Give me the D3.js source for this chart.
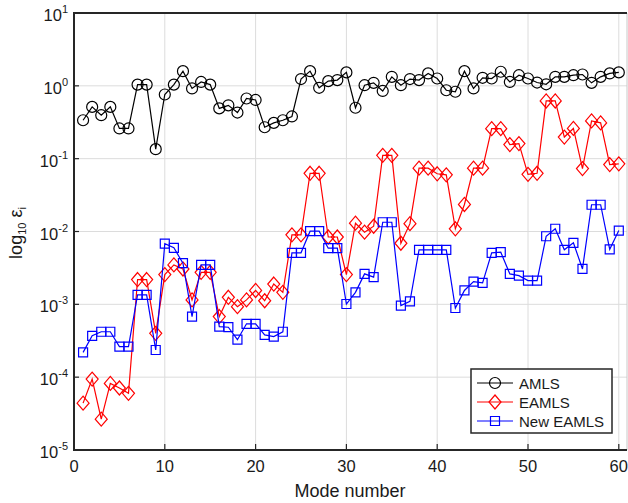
<!DOCTYPE html>
<html>
<head>
<meta charset="utf-8">
<script src="https://cdn.jsdelivr.net/npm/d3@7"></script>
<style>
  body { margin: 0; background: #fff; }
  svg { display: block; font-family: "Liberation Sans", Arial, sans-serif; }
</style>
</head>
<body>
<svg width="628" height="503"></svg>
<script>
// mode numbers 1..60
var modes = d3.range(1, 61);

var amls = [0.337, 0.514, 0.395, 0.514, 0.26, 0.26, 1.04, 1.04, 0.135, 0.76,
	1.04, 1.59, 0.92, 1.13, 1.04, 0.49, 0.54, 0.43, 0.67, 0.64,
	0.27, 0.31, 0.337, 0.38, 1.24, 1.59, 0.94, 1.16, 1.2, 1.53,
	0.50, 1.02, 1.1, 0.85, 1.33, 1.02, 1.24, 1.2, 1.48, 1.26,
	0.87, 0.83, 1.59, 0.92, 1.29, 1.26, 1.56, 1.13, 1.4, 1.26,
	1.11, 1.05, 1.33, 1.33, 1.4, 1.43, 1.1, 1.33, 1.48, 1.53];

var eamls = [4.4e-5, 9.4e-5, 2.65e-5, 8.2e-5, 7.1e-5, 6.0e-5, 2.19e-3, 2.19e-3, 4.0e-4, 2.56e-3,
	3.48e-3, 3.06e-3, 1.15e-3, 2.75e-3, 2.75e-3, 6.8e-4, 1.25e-3, 9.3e-4, 1.15e-3, 1.55e-3,
	1.12e-3, 1.9e-3, 1.46e-3, 9.0e-3, 9.0e-3, 6.3e-2, 6.3e-2, 8.4e-3, 8.4e-3, 2.56e-3,
	1.3e-2, 9.8e-3, 1.18e-2, 0.111, 0.111, 6.9e-3, 1.28e-2, 7.4e-2, 7.4e-2, 6.2e-2,
	6.0e-2, 1.09e-2, 2.35e-2, 7.4e-2, 7.4e-2, 0.258, 0.258, 0.156, 0.161, 6.1e-2,
	6.3e-2, 0.62, 0.62, 0.198, 0.26, 7.3e-2, 0.33, 0.31, 8.3e-2, 8.5e-2];

var newEamls = [2.19e-4, 3.7e-4, 4.2e-4, 4.2e-4, 2.63e-4, 2.63e-4, 1.35e-3, 1.35e-3, 2.36e-4, 6.8e-3,
	5.97e-3, 3.67e-3, 6.8e-4, 3.48e-3, 3.48e-3, 4.93e-4, 4.85e-4, 3.27e-4, 5.4e-4, 5.4e-4,
	3.8e-4, 3.6e-4, 4.2e-4, 5.1e-3, 5.1e-3, 1.01e-2, 1.01e-2, 5.9e-3, 5.9e-3, 1.01e-3,
	1.46e-3, 2.62e-3, 2.36e-3, 1.34e-2, 1.34e-2, 9.6e-4, 1.1e-3, 5.6e-3, 5.6e-3, 5.6e-3,
	5.6e-3, 8.9e-4, 1.55e-3, 2.05e-3, 1.97e-3, 5.1e-3, 5.2e-3, 2.62e-3, 2.48e-3, 2.12e-3,
	2.12e-3, 8.6e-3, 1.09e-2, 5.6e-3, 7.0e-3, 3.06e-3, 2.33e-2, 2.33e-2, 5.7e-3, 1.03e-2];

var xTicks = [0, 10, 20, 30, 40, 50, 60];
var yExps = [-5, -4, -3, -2, -1, 0, 1];
var seriesNames = ['AMLS', 'EAMLS', 'New EAMLS'];

var svg = d3.select('svg');
var pLeft = 74, pRight = 627, pTop = 13, pBottom = 450;

var x = d3.scaleLinear().domain([0, 61]).range([pLeft, pLeft + 61 * 9.08]);
var y = d3.scaleLog().domain([1e-5, 10]).range([pBottom, pTop]);

// grid
svg.append('g').selectAll('line')
	.data(xTicks.slice(1))
	.enter().append('line')
	.attr('x1', x).attr('x2', x)
	.attr('y1', pTop).attr('y2', pBottom)
	.attr('stroke', '#dcdcdc').attr('stroke-width', 1);

svg.append('g').selectAll('line')
	.data(yExps.slice(1, -1))
	.enter().append('line')
	.attr('x1', pLeft).attr('x2', pRight)
	.attr('y1', function(d) {return y(Math.pow(10, d));})
	.attr('y2', function(d) {return y(Math.pow(10, d));})
	.attr('stroke', '#dcdcdc').attr('stroke-width', 1);

// ticks (inward)
svg.append('g').selectAll('line')
	.data(xTicks.slice(1))
	.enter().append('line')
	.attr('x1', x).attr('x2', x)
	.attr('y1', pBottom).attr('y2', pBottom - 6)
	.attr('stroke', '#262626').attr('stroke-width', 1.2);

svg.append('g').selectAll('line')
	.data(yExps.slice(1, -1))
	.enter().append('line')
	.attr('x1', pLeft).attr('x2', pLeft + 5)
	.attr('y1', function(d) {return y(Math.pow(10, d));})
	.attr('y2', function(d) {return y(Math.pow(10, d));})
	.attr('stroke', '#262626').attr('stroke-width', 1.2);

// frame
svg.append('line').attr('x1', pRight).attr('x2', pRight).attr('y1', pTop).attr('y2', pBottom)
	.attr('stroke', '#c8c8c8').attr('stroke-width', 1);
svg.append('path')
	.attr('d', 'M' + pRight + ',' + pTop + 'H' + pLeft + 'V' + pBottom + 'H' + pRight)
	.attr('fill', 'none').attr('stroke', '#262626').attr('stroke-width', 2);

// tick labels
svg.append('g').selectAll('text')
	.data(xTicks)
	.enter().append('text')
	.attr('x', x).attr('y', 472)
	.attr('text-anchor', 'middle')
	.attr('font-size', 16.5).attr('fill', '#1a1a1a')
	.text(function(d) {return d;});

var yl = svg.append('g').selectAll('text')
	.data(yExps)
	.enter().append('text')
	.attr('x', 68)
	.attr('y', function(d) {return y(Math.pow(10, d)) + 8;})
	.attr('text-anchor', 'end')
	.attr('font-size', 16.5).attr('fill', '#1a1a1a');
yl.append('tspan').text('10');
yl.append('tspan').attr('font-size', 11).attr('dy', -8)
	.text(function(d) {return d;});

// axis titles
svg.append('text')
	.attr('x', 350).attr('y', 497)
	.attr('text-anchor', 'middle')
	.attr('font-size', 18).attr('fill', '#1a1a1a')
	.text('Mode number');

var yt = svg.append('text')
	.attr('transform', 'translate(22,233) rotate(-90)')
	.attr('text-anchor', 'middle')
	.attr('font-size', 18).attr('fill', '#1a1a1a');
yt.append('tspan').text('log');
yt.append('tspan').attr('font-size', 11).attr('dy', 4).text('10');
yt.append('tspan').attr('dy', -4).text(' \u03b5');
yt.append('tspan').attr('font-size', 11).attr('dy', 4).text('i');

// series
var line = d3.line()
	.x(function(d, i) {return x(modes[i]);})
	.y(function(d) {return y(d);});

function drawSeries(vals, color, shape) {
	var g = svg.append('g');
	g.append('path').datum(vals)
		.attr('d', line)
		.attr('fill', 'none').attr('stroke', color).attr('stroke-width', 1.2);
	g.selectAll('path.m')
		.data(vals)
		.enter().append('path')
		.attr('class', 'm')
		.attr('transform', function(d, i) {return 'translate(' + x(modes[i]) + ',' + y(d) + ')';})
		.attr('d', shape)
		.attr('fill', 'none').attr('stroke', color).attr('stroke-width', 1.2);
}

var circle = 'M5.5,0A5.5,5.5 0 1,1 -5.5,0A5.5,5.5 0 1,1 5.5,0Z';
var diamond = 'M0,-7L6,0L0,7L-6,0Z';
var square = 'M-4.5,-4.5H4.5V4.5H-4.5Z';

drawSeries(amls, '#000', circle);
drawSeries(eamls, '#ff0000', diamond);
drawSeries(newEamls, '#0000ff', square);

// legend
var lg = svg.append('g');
lg.append('rect')
	.attr('x', 471).attr('y', 369).attr('width', 141).attr('height', 64)
	.attr('fill', '#fff').attr('stroke', '#262626').attr('stroke-width', 1.5);
var legendColors = ['#000', '#ff0000', '#0000ff'];
var legendShapes = [circle, diamond, square];
seriesNames.forEach(function(name, i) {
	var ly = 383 + i * 19;
	lg.append('line')
		.attr('x1', 477).attr('x2', 513).attr('y1', ly).attr('y2', ly)
		.attr('stroke', legendColors[i]).attr('stroke-width', 1.2);
	lg.append('path')
		.attr('transform', 'translate(495,' + ly + ')')
		.attr('d', legendShapes[i])
		.attr('fill', 'none').attr('stroke', legendColors[i]).attr('stroke-width', 1.2);
	lg.append('text')
		.attr('x', 519).attr('y', ly + 5.5)
		.attr('font-size', 15).attr('fill', '#1a1a1a')
		.text(name);
});
</script>
</body>
</html>
